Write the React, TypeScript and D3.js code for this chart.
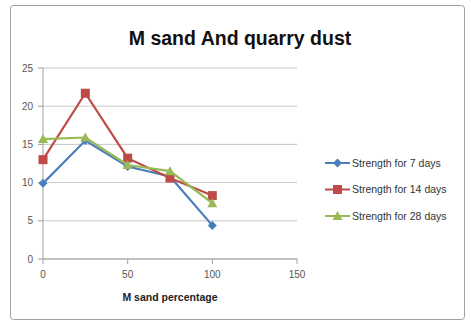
import React from "react";
import * as d3 from "d3";

const xValues = [0, 25, 50, 75, 100];
const seriesNames = ["Strength for 7 days", "Strength for 14 days", "Strength for 28 days"];
const days7 = [9.9, 15.5, 12.1, 10.8, 4.4];
const days14 = [13.0, 21.7, 13.2, 10.6, 8.3];
const days28 = [15.7, 15.9, 12.3, 11.5, 7.3];
const xTicks = [0, 50, 100, 150];
const yTicks = [0, 5, 10, 15, 20, 25];
const colors = ["#4a7ebb", "#be4b48", "#98b954"];

export default function App() {
  const W = 471, H = 326;
  const x = d3.scaleLinear().domain([0, 150]).range([43, 297]);
  const y = d3.scaleLinear().domain([0, 25]).range([259, 68]);
  const all = [days7, days14, days28];
  const line = d3.line<number>().x((_, i) => x(xValues[i])).y((d) => y(d));
  const font = "'Liberation Sans', Arial, sans-serif";

  const marker = (k: number, cx: number, cy: number, key: string) => {
    if (k === 0) {
      const s = 4.5;
      return <path key={key} d={`M${cx},${cy - s}L${cx + s},${cy}L${cx},${cy + s}L${cx - s},${cy}Z`} fill={colors[0]} />;
    }
    if (k === 1) {
      return <rect key={key} x={cx - 4.5} y={cy - 4.5} width={9} height={9} fill={colors[1]} />;
    }
    const s = 5;
    return <path key={key} d={`M${cx},${cy - s}L${cx + s},${cy + s * 0.8}L${cx - s},${cy + s * 0.8}Z`} fill={colors[2]} />;
  };

  return (
    <svg width={W} height={H} style={{ position: "absolute", left: 0, top: 0, background: "#fff" }}>
      <rect x={10.5} y={5.5} width={454} height={314} rx={3} fill="#fff" stroke="#a0a0a0" />
      <text x={240} y={45} textAnchor="middle" fontFamily={font} fontWeight="bold" fontSize={19.5} fill="#111">
        M sand And quarry dust
      </text>
      {yTicks.map((t) => (
        <g key={"y" + t}>
          <line x1={43} x2={297} y1={y(t)} y2={y(t)} stroke="#c8c8c8" />
          <line x1={38} x2={43} y1={y(t)} y2={y(t)} stroke="#a0a0a0" />
          <text x={33} y={y(t) + 3.5} textAnchor="end" fontFamily={font} fontSize={10} fill="#555">{t}</text>
        </g>
      ))}
      <line x1={43} x2={43} y1={68} y2={259} stroke="#a0a0a0" />
      <line x1={43} x2={297} y1={259} y2={259} stroke="#a0a0a0" />
      {xTicks.map((t) => (
        <g key={"x" + t}>
          <line x1={x(t)} x2={x(t)} y1={259} y2={264} stroke="#a0a0a0" />
          <text x={x(t)} y={278} textAnchor="middle" fontFamily={font} fontSize={10} fill="#555">{t}</text>
        </g>
      ))}
      <text x={170} y={301} textAnchor="middle" fontFamily={font} fontWeight="bold" fontSize={10.5} fill="#222">
        M sand percentage
      </text>
      {all.map((vals, k) => (
        <g key={"s" + k}>
          <path d={line(vals) || ""} fill="none" stroke={colors[k]} strokeWidth={2.2} />
          {vals.map((v, i) => marker(k, x(xValues[i]), y(v), `m${k}-${i}`))}
        </g>
      ))}
      {seriesNames.map((n, k) => {
        const ly = 163 + k * 26.5;
        return (
          <g key={"l" + k}>
            <line x1={325} x2={350} y1={ly} y2={ly} stroke={colors[k]} strokeWidth={2} />
            {marker(k, 337.5, ly, "lm" + k)}
            <text x={352} y={ly + 3.5} fontFamily={font} fontSize={10.5} fill="#333">{n}</text>
          </g>
        );
      })}
    </svg>
  );
}
